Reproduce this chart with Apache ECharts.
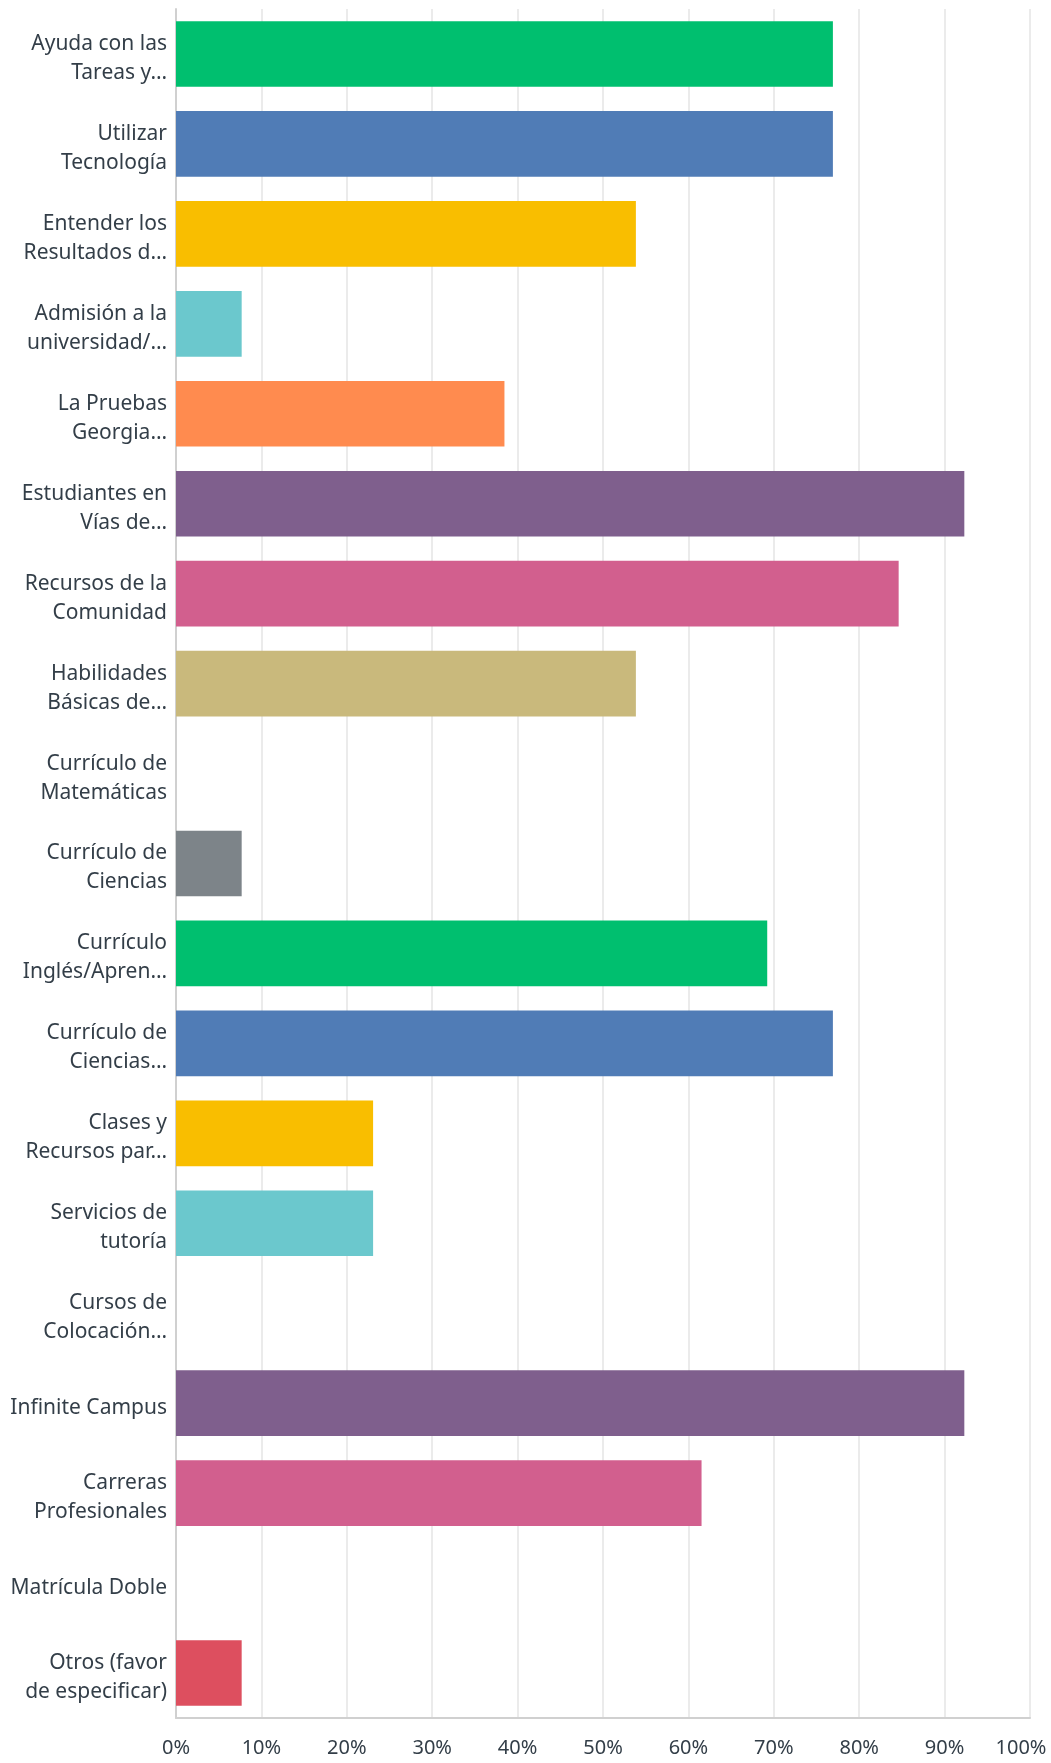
<!DOCTYPE html>
<html>
<head>
<meta charset="utf-8">
<script src="https://cdn.jsdelivr.net/npm/echarts@6/dist/echarts.min.js"></script>
<style>
html,body{margin:0;padding:0;background:#fff;}
#chart{width:1051px;height:1763px;}
</style>
</head>
<body>
<div id="chart"></div>
<script>
var categories = [
  "Ayuda con las\nTareas y…",
  "Utilizar\nTecnología",
  "Entender los\nResultados d…",
  "Admisión a la\nuniversidad/…",
  "La Pruebas\nGeorgia…",
  "Estudiantes en\nVías de…",
  "Recursos de la\nComunidad",
  "Habilidades\nBásicas de…",
  "Currículo de\nMatemáticas",
  "Currículo de\nCiencias",
  "Currículo\nInglés/Apren…",
  "Currículo de\nCiencias…",
  "Clases y\nRecursos par…",
  "Servicios de\ntutoría",
  "Cursos de\nColocación…",
  "Infinite Campus",
  "Carreras\nProfesionales",
  "Matrícula Doble",
  "Otros (favor\nde especificar)"
];
var values = [76.92, 76.92, 53.85, 7.69, 38.46, 92.31, 84.62, 53.85, 0, 7.69, 69.23, 76.92, 23.08, 23.08, 0, 92.31, 61.54, 0, 7.69];
var palette = ["#00bf6f", "#507cb6", "#f9be00", "#6bc8cd", "#ff8b4f", "#7f5f8d", "#d25f8e", "#c9b97c", "#dd4f5f", "#7d8489"];
var xTicks = [0, 10, 20, 30, 40, 50, 60, 70, 80, 90, 100];

var chart = echarts.init(document.getElementById('chart'));
var font = '"Noto Sans", "Open Sans", sans-serif';
chart.setOption({
  animation: false,
  grid: {left: 176, right: 21, top: 9, bottom: 45, containLabel: false, outerBoundsMode: 'none'},
  xAxis: {
    type: 'value',
    min: xTicks[0],
    max: xTicks[xTicks.length - 1],
    interval: 10,
    axisLine: {show: true, lineStyle: {color: '#d0d0d0', width: 2}},
    axisTick: {show: false},
    splitLine: {show: true, lineStyle: {color: '#ebebeb', width: 2}},
    axisLabel: {
      formatter: function (v) {
        return v === xTicks[xTicks.length - 1] ? '{m|' + v + '%}' : v + '%';
      },
      color: '#333e48',
      fontFamily: font,
      fontSize: 20,
      margin: 20,
      rich: {
        m: {color: '#333e48', fontFamily: font, fontSize: 20, padding: [0, 18, 0, 0]}
      }
    }
  },
  yAxis: {
    type: 'category',
    inverse: true,
    data: categories,
    axisLine: {show: true, lineStyle: {color: '#d0d0d0', width: 2}},
    axisTick: {show: false},
    splitLine: {show: false},
    axisLabel: {
      formatter: function (v) {
        return v.split('\n').map(function (s) { return '{t|' + s + '}'; }).join('\n');
      },
      color: '#333e48',
      fontFamily: font,
      fontSize: 21,
      lineHeight: 29,
      align: 'right',
      margin: 9,
      padding: [9, 0, 0, 0],
      interval: 0,
      rich: {
        t: {color: '#333e48', fontFamily: font, fontSize: 21, lineHeight: 29, align: 'right'}
      }
    }
  },
  series: [{
    type: 'bar',
    data: values.map(function (v, i) {
      return {value: v, itemStyle: {color: palette[i % palette.length]}};
    }),
    barCategoryGap: '27%'
  }]
});
</script>
</body>
</html>
